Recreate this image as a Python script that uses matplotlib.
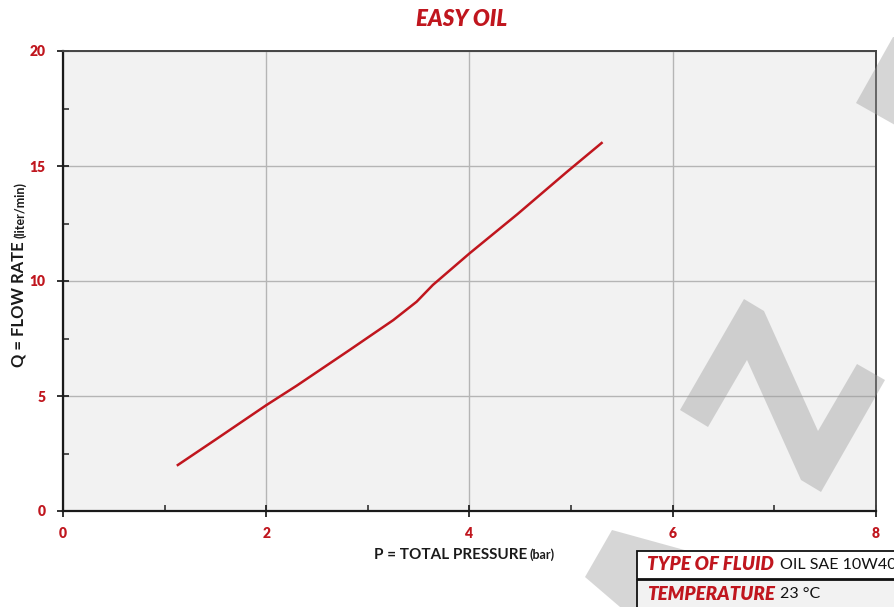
import matplotlib
matplotlib.use('Agg')
import matplotlib.pyplot as plt
from matplotlib.patches import Polygon
from matplotlib.ticker import MultipleLocator

# data
pressure = [1.13, 1.5, 2.0, 2.3, 2.82, 3.25, 3.48, 3.64, 4.0, 4.47, 4.96, 5.3]
flow_rate = [2.0, 3.1, 4.6, 5.45, 7.0, 8.3, 9.1, 9.83, 11.2, 12.9, 14.75, 16.0]

x_ticks = [0, 2, 4, 6, 8]
y_ticks = [0, 5, 10, 15, 20]

table_labels = ["TYPE OF FLUID", "TEMPERATURE"]
table_values = ["OIL SAE 10W40", "23 °C"]

RED = '#c0161e'
W, H = 895, 607

plt.rcParams['font.family'] = ['Lato', 'DejaVu Sans']

fig = plt.figure(figsize=(W / 100, H / 100), dpi=100)
ax = fig.add_axes([63 / W, 1 - 511 / H, (876 - 63) / W, (511 - 51) / H])
ax.set_facecolor('#f2f2f2')

ax.plot(pressure, flow_rate, color=RED, lw=1.8, zorder=3, solid_joinstyle='round')

ax.set_xlim(0, 8)
ax.set_ylim(0, 20)
ax.set_xticks(x_ticks)
ax.set_yticks(y_ticks)
ax.xaxis.set_minor_locator(MultipleLocator(1))
ax.yaxis.set_minor_locator(MultipleLocator(2.5))
ax.grid(True, which='major', color='#b5b5b5', lw=1.0)
ax.set_axisbelow(True)

ax.tick_params(which='major', direction='inout', length=9, width=1.3,
               colors='#222222', labelcolor=RED, labelsize=10, pad=8)
ax.tick_params(which='minor', direction='in', length=4, width=1.1, colors='#222222')
for lab in ax.get_xticklabels() + ax.get_yticklabels():
    lab.set_fontweight('heavy')
ax.tick_params(axis='x', pad=7)

for side in ['left', 'bottom']:
    ax.spines[side].set_color('#1a1a1a')
    ax.spines[side].set_linewidth(1.6)
for side in ['top', 'right']:
    ax.spines[side].set_color('#444444')
    ax.spines[side].set_linewidth(1.4)

# title
fig.text(462 / W, 1 - 19 / H, "EASY OIL", color=RED, fontsize=16, fontweight='heavy',
         fontstyle='italic', ha='center', va='center')

# axis labels
fig.text(527 / W, 1 - 559 / H, "P = TOTAL PRESSURE", fontsize=11, fontweight='bold',
         color='#1a1a1a', ha='right', va='baseline')
fig.text(530 / W, 1 - 559 / H, "(bar)", fontsize=9, fontweight='bold',
         color='#1a1a1a', ha='left', va='baseline')
fig.text(24 / W, 1 - 367 / H, "Q = FLOW RATE", fontsize=12, fontweight='bold',
         color='#1a1a1a', ha='left', va='baseline', rotation=90, rotation_mode='anchor')
fig.text(24 / W, 1 - 238 / H, "(liter/min)", fontsize=9, fontweight='bold',
         color='#1a1a1a', ha='left', va='baseline', rotation=90, rotation_mode='anchor')

# watermark shapes
def px(pts):
    return [(x / W, 1 - y / H) for x, y in pts]

shapes = [
    [(680, 410), (744, 299), (764, 311), (818, 431), (857, 364), (885, 380),
     (821, 492), (801, 480), (747, 360), (708, 427)],
    [(856, 103), (893, 37), (895, 37), (895, 125)],
    [(585, 577), (612, 530), (775, 575), (760, 607), (620, 607)],
]
for s in shapes:
    fig.patches.append(Polygon(px(s), closed=True, transform=fig.transFigure,
                               facecolor='#9a9a9a', edgecolor='none', alpha=0.4, zorder=5))

# info table
row_top = [551, 580]
row_bg = ['white', '#f2f2f2']
for i in range(len(table_labels)):
    y0 = row_top[i]
    fig.patches.append(plt.Rectangle((637 / W, 1 - (y0 + 28) / H), (W - 637) / W, 28 / H,
                                     transform=fig.transFigure, facecolor=row_bg[i],
                                     edgecolor='#111111', lw=1.3, zorder=6))
    fig.text(647 / W, 1 - (y0 + 14) / H, table_labels[i], color=RED, fontsize=13.5,
             fontweight='heavy', fontstyle='italic', ha='left', va='center', zorder=7)
    fig.text(780 / W, 1 - (y0 + 14) / H, table_values[i],
             color='#111111', fontsize=11.5, ha='left', va='center', zorder=7)

fig.savefig('out.png', dpi=100)
